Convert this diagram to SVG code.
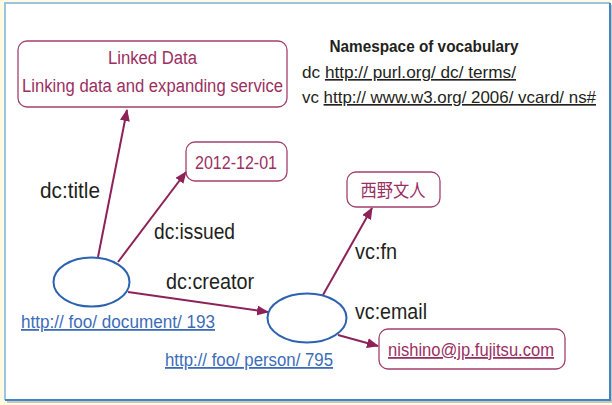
<svg xmlns="http://www.w3.org/2000/svg" width="612" height="405" viewBox="0 0 612 405">
  <style>
    .lit { fill: none; stroke: #a2406e; stroke-width: 1.3; }
    .lit-text { font-family: "Liberation Sans", "Noto Sans CJK JP", sans-serif; font-size: 18px; fill: #9a2f62; }
    .res { fill: #ffffff; stroke: #2d62b0; stroke-width: 2; }
    .uri { font-family: "Liberation Sans", sans-serif; font-size: 18px; fill: #3c6cb8; text-decoration: underline; }
    .prop { font-family: "Liberation Sans", sans-serif; font-size: 22.5px; fill: #231f20; }
    .ns { font-family: "Liberation Sans", sans-serif; font-size: 16.5px; fill: #231f20; }
    .edge { stroke: #8e2258; stroke-width: 2; fill: none; marker-end: url(#head); }
  </style>
  <defs>
    <marker id="head" viewBox="0 0 12 10" refX="11" refY="5" markerWidth="12" markerHeight="10" markerUnits="userSpaceOnUse" orient="auto">
      <path d="M0,0 L12,5 L0,10 Z" fill="#8e2258"/>
    </marker>
  </defs>

  <!-- page background and panel -->
  <rect x="0" y="0" width="612" height="405" fill="#fffbe3"/>
  <rect x="7" y="5" width="605" height="398" fill="#c9c6b8"/>
  <rect x="5" y="3" width="605" height="397" fill="#ffffff"/>
  <path d="M5,400 V3 H610" fill="none" stroke="#9cc4e2" stroke-width="2"/>
  <path d="M610,3 V400 H5" fill="none" stroke="#3f86c9" stroke-width="2"/>

  <!-- vocabulary namespaces -->
  <g id="namespaces">
    <text x="424" y="52" text-anchor="middle" class="ns" font-size="17.5" font-weight="bold" textLength="189" lengthAdjust="spacingAndGlyphs">Namespace of vocabulary</text>
    <text x="302" y="78" class="ns" textLength="214" lengthAdjust="spacingAndGlyphs">dc <tspan text-decoration="underline">http:// purl.org/ dc/ terms/</tspan></text>
    <text x="302" y="103" class="ns" textLength="294" lengthAdjust="spacingAndGlyphs">vc <tspan text-decoration="underline">http:// www.w3.org/ 2006/ vcard/ ns#</tspan></text>
  </g>

  <!-- connectors -->
  <g id="connectors">
    <line class="edge" x1="98" y1="257" x2="127" y2="110"/>
    <line class="edge" x1="118" y1="262" x2="186" y2="172"/>
    <line class="edge" x1="128" y1="292" x2="268" y2="312"/>
    <line class="edge" x1="323" y1="295" x2="372" y2="208"/>
    <line class="edge" x1="338" y1="335" x2="378" y2="346"/>
    <text x="40" y="198" class="prop" textLength="60" lengthAdjust="spacingAndGlyphs">dc:title</text>
    <text x="154" y="239" class="prop" textLength="81" lengthAdjust="spacingAndGlyphs">dc:issued</text>
    <text x="166" y="289" class="prop" textLength="88" lengthAdjust="spacingAndGlyphs">dc:creator</text>
    <text x="355" y="259" class="prop" textLength="42" lengthAdjust="spacingAndGlyphs">vc:fn</text>
    <text x="355" y="319" class="prop" textLength="72" lengthAdjust="spacingAndGlyphs">vc:email</text>
  </g>

  <g id="title-literal">
    <rect class="lit" x="18" y="41" width="269" height="66" rx="9"/>
    <text x="152.5" y="64" text-anchor="middle" class="lit-text" textLength="89" lengthAdjust="spacingAndGlyphs">Linked Data</text>
    <text x="152.5" y="92" text-anchor="middle" class="lit-text" textLength="261" lengthAdjust="spacingAndGlyphs">Linking data and expanding service</text>
  </g>

  <g id="issued-literal">
    <rect class="lit" x="186" y="142" width="101" height="39" rx="9"/>
    <text x="236" y="169" text-anchor="middle" class="lit-text" font-size="19" textLength="82" lengthAdjust="spacingAndGlyphs">2012-12-01</text>
  </g>

  <g id="document">
    <ellipse class="res" cx="91.5" cy="282" rx="38" ry="24.5"/>
    <text x="21" y="328" class="uri" textLength="194" lengthAdjust="spacingAndGlyphs">http:// foo/ document/ 193</text>
  </g>

  <g id="person">
    <ellipse class="res" cx="307" cy="318" rx="39.5" ry="24.5"/>
    <text x="165" y="366" class="uri" textLength="168" lengthAdjust="spacingAndGlyphs">http:// foo/ person/ 795</text>
  </g>

  <g id="name-literal">
    <rect class="lit" x="347" y="172" width="93" height="35" rx="9"/>
    <text x="393" y="197" text-anchor="middle" class="lit-text" textLength="65" lengthAdjust="spacingAndGlyphs">西野文人</text>
  </g>

  <g id="email-literal">
    <rect class="lit" x="379" y="329" width="186" height="40" rx="9"/>
    <text x="471" y="356" text-anchor="middle" class="lit-text" font-size="19" text-decoration="underline" textLength="166" lengthAdjust="spacingAndGlyphs">nishino@jp.fujitsu.com</text>
  </g>
</svg>
